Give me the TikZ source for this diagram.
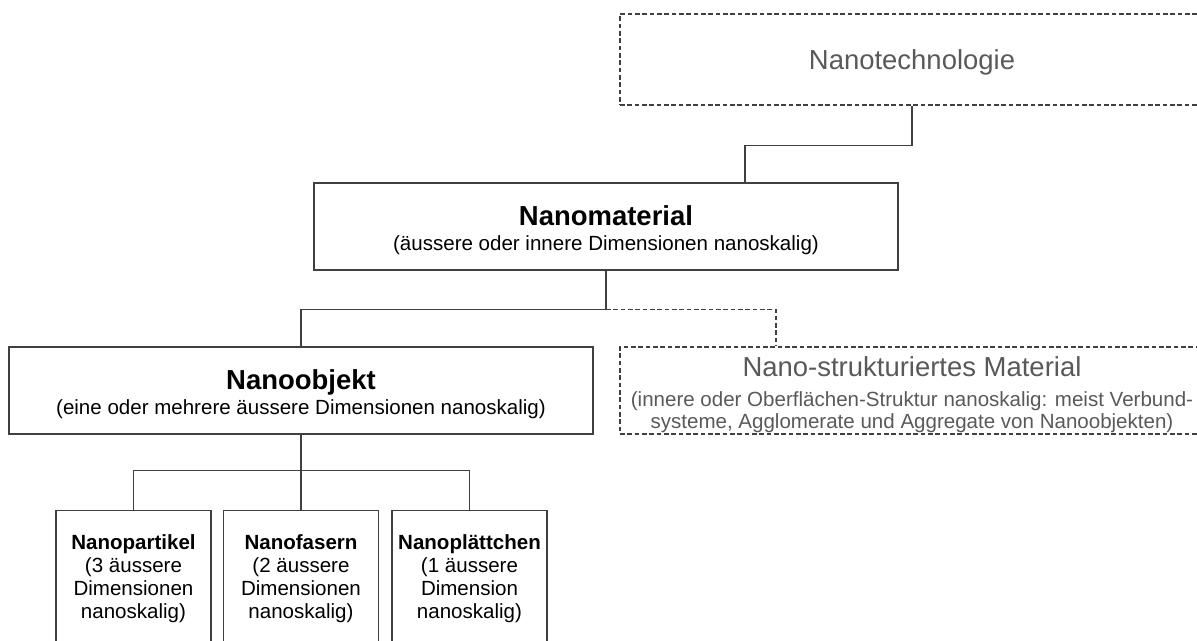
\documentclass[tikz,border=0pt]{standalone}
\usepackage{fontspec}
\setmainfont{Liberation Sans}
\usetikzlibrary{calc}

\definecolor{linegray}{HTML}{404040}
\definecolor{textgray}{HTML}{595959}

\newcommand{\topgap}[1]{\rule{0pt}{#1}}

\begin{document}
\begin{tikzpicture}[
        x=0.75pt,y=-0.75pt,
        box/.style={draw=linegray,line width=0.8pt,rectangle,align=center,inner sep=0pt},
        bigbox/.style={box,minimum width=438pt,minimum height=65.25pt,font=\fontsize{15.4}{18.75}\selectfont},
        dashbox/.style={bigbox,dash pattern=on 3.5pt off 2pt,text=textgray},
        leafbox/.style={box,minimum width=116.25pt,minimum height=102pt,anchor=north,font=\fontsize{15.4}{17.25}\selectfont},
        link/.style={draw=linegray,line width=0.8pt},
        dlink/.style={link,dash pattern=on 3.5pt off 2pt}]

    \useasboundingbox (0,0) rectangle (1197,641);
    \clip (0,0) rectangle (1197,641);

    \node[dashbox,minimum height=68.25pt,font=\fontsize{20.6}{24}\selectfont] (tech) at (912,59.5) {\topgap{19.5pt}Nanotechnologie};
    \node[bigbox] (mat) at (606,226.5)
        {{\fontsize{20.6}{24}\selectfont\bfseries\topgap{21pt}Nanomaterial}\\
         (äussere oder innere Dimensionen nanoskalig)};
    \node[bigbox] (obj) at (301,390.5)
        {{\fontsize{20.6}{24}\selectfont\bfseries\topgap{21pt}Nanoobjekt}\\
         (eine oder mehrere äussere Dimensionen nanoskalig)};
    \node[dashbox,font=\fontsize{15.4}{16}\selectfont] (struct) at (912,390.5)
        {{\fontsize{20.6}{24}\selectfont\topgap{21pt}Nano-strukturiertes Material}\\[6.5pt]
         (innere oder Oberflächen-Struktur nanoskalig: meist Verbund-\\
         systeme, Agglomerate und Aggregate von Nanoobjekten)};

    \node[leafbox] (partikel) at (133.5,510)
        {\textbf{Nanopartikel}\\(3 äussere\\Dimensionen\\nanoskalig)};
    \node[leafbox] (fasern) at (301,510)
        {\textbf{Nanofasern}\\(2 äussere\\Dimensionen\\nanoskalig)};
    \node[leafbox] (plaettchen) at (469.5,510)
        {\textbf{Nanoplättchen}\\(1 äussere\\Dimension\\nanoskalig)};

    \draw[link] (tech.south) -- ++(0,40) -| ($(mat.north)+(139,0)$);
    \draw[link] (mat.south) -- ++(0,39) coordinate (matsplit) -| (obj.north);
    \draw[dlink] (matsplit) -| ($(struct.north)+(-136,0)$);
    \draw[link] (obj.south) -- ++(0,36) coordinate (objsplit) -| (partikel.north);
    \draw[link] (objsplit) -| (plaettchen.north);
    \draw[link] (objsplit) -- (fasern.north);
\end{tikzpicture}
\end{document}
